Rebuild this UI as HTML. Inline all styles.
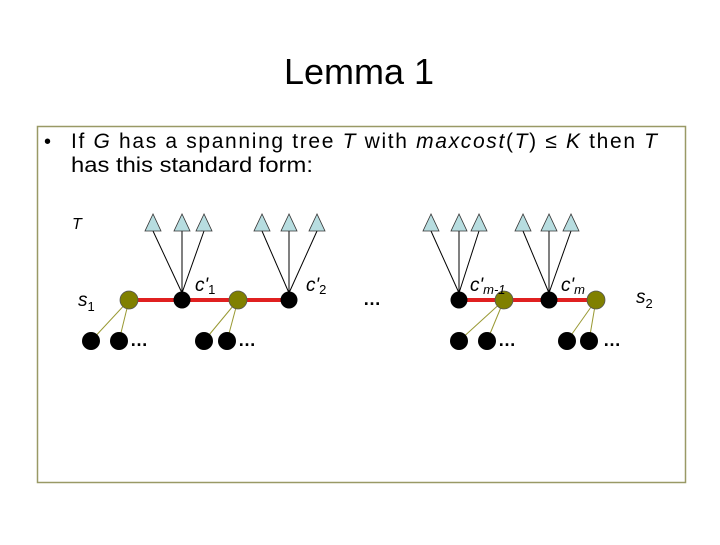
<!DOCTYPE html>
<html><head><meta charset="utf-8"><style>
body{margin:0;width:720px;height:540px;background:#fff;overflow:hidden;font-family:"Liberation Sans",sans-serif}
</style></head><body>
<svg width="720" height="540" xmlns="http://www.w3.org/2000/svg" font-family="Liberation Sans, sans-serif">
<text x="359" y="84" font-size="36" text-anchor="middle">Lemma 1</text>
<rect x="37.5" y="126.5" width="648" height="356" fill="none" stroke="#999966" stroke-width="1.5"/>
<text x="44" y="148" font-size="20">•</text>
<text x="71" y="148" font-size="21" textLength="586" lengthAdjust="spacing">If <tspan font-style="italic">G</tspan> has a spanning tree <tspan font-style="italic">T</tspan> with <tspan font-style="italic">maxcost</tspan>(<tspan font-style="italic">T</tspan>) ≤ <tspan font-style="italic">K</tspan>  then  <tspan font-style="italic">T</tspan></text>
<text x="71" y="172" font-size="21" textLength="242" lengthAdjust="spacingAndGlyphs">has this standard form:</text>
<text x="72" y="229" font-size="16" font-style="italic">T</text>
<g stroke="#000" stroke-width="1">
<line x1="182" y1="293" x2="153" y2="231"/><line x1="182" y1="293" x2="182" y2="231"/><line x1="182" y1="293" x2="204" y2="231"/>
<line x1="289" y1="293" x2="262" y2="231"/><line x1="289" y1="293" x2="289" y2="231"/><line x1="289" y1="293" x2="317" y2="231"/>
<line x1="459" y1="293" x2="431" y2="231"/><line x1="459" y1="293" x2="459" y2="231"/><line x1="459" y1="293" x2="479" y2="231"/>
<line x1="549" y1="293" x2="523" y2="231"/><line x1="549" y1="293" x2="549" y2="231"/><line x1="549" y1="293" x2="571" y2="231"/>
</g>
<g fill="#b7dde0" stroke="#333" stroke-width="0.8">
<polygon points="153,214 145,231 161,231"/><polygon points="182,214 174,231 190,231"/><polygon points="204,214 196,231 212,231"/>
<polygon points="262,214 254,231 270,231"/><polygon points="289,214 281,231 297,231"/><polygon points="317,214 309,231 325,231"/>
<polygon points="431,214 423,231 439,231"/><polygon points="459,214 451,231 467,231"/><polygon points="479,214 471,231 487,231"/>
<polygon points="523,214 515,231 531,231"/><polygon points="549,214 541,231 557,231"/><polygon points="571,214 563,231 579,231"/>
</g>
<g stroke="#e02020" stroke-width="4">
<line x1="129" y1="300" x2="289" y2="300"/><line x1="459" y1="300" x2="596" y2="300"/>
</g>
<g stroke="#999933" stroke-width="1">
<line x1="129" y1="300" x2="91" y2="341"/><line x1="129" y1="300" x2="119" y2="341"/>
<line x1="238" y1="300" x2="204" y2="341"/><line x1="238" y1="300" x2="227" y2="341"/>
<line x1="504" y1="300" x2="459" y2="341"/><line x1="504" y1="300" x2="487" y2="341"/>
<line x1="596" y1="300" x2="567" y2="341"/><line x1="596" y1="300" x2="589" y2="341"/>
</g>
<g fill="#808000" stroke="#555" stroke-width="0.8">
<circle cx="129" cy="300" r="9"/><circle cx="238" cy="300" r="9"/><circle cx="504" cy="300" r="9"/><circle cx="596" cy="300" r="9"/>
</g>
<g fill="#000">
<circle cx="182" cy="300" r="8.5"/><circle cx="289" cy="300" r="8.5"/><circle cx="459" cy="300" r="8.5"/><circle cx="549" cy="300" r="8.5"/>
<circle cx="91" cy="341" r="9"/><circle cx="119" cy="341" r="9"/><circle cx="204" cy="341" r="9"/><circle cx="227" cy="341" r="9"/>
<circle cx="459" cy="341" r="9"/><circle cx="487" cy="341" r="9"/><circle cx="567" cy="341" r="9"/><circle cx="589" cy="341" r="9"/>
</g>
<g font-size="18" font-weight="bold">
<text x="130" y="346">…</text><text x="238" y="346">…</text><text x="363" y="305">…</text><text x="498" y="346">…</text><text x="603" y="346">…</text>
</g>
<g font-size="19" font-style="italic">
<text x="78" y="306">s<tspan font-size="13" font-style="normal" dy="5">1</tspan></text>
<text x="195" y="291">c'<tspan font-size="13" font-style="normal" dy="3">1</tspan></text>
<text x="306" y="291">c'<tspan font-size="13" font-style="normal" dy="3">2</tspan></text>
<text x="470" y="291">c'<tspan font-size="13" dy="3">m-1</tspan></text>
<text x="561" y="291">c'<tspan font-size="13" dy="3">m</tspan></text>
<text x="636" y="303">s<tspan font-size="13" font-style="normal" dy="5">2</tspan></text>
</g>
</svg>
</body></html>
